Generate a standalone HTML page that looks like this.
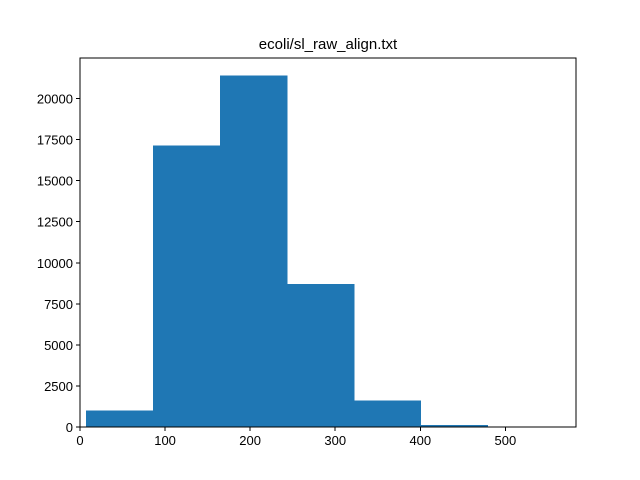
<!DOCTYPE html>
<html><head><meta charset="utf-8"><style>body{margin:0;background:#fff}svg{display:block;font-family:"Liberation Sans","DejaVu Sans",sans-serif}</style></head>
<body>
<svg id="chart" width="640" height="480">
<rect width="640" height="480" fill="#fff"/>
<text x="328" y="49" text-anchor="middle" font-size="15">ecoli/sl_raw_align.txt</text>
<g id="bars" shape-rendering="crispEdges"></g><g id="axes" shape-rendering="crispEdges"></g>
<rect x="80" y="58" width="496" height="369" fill="none" stroke="#000" stroke-width="1"/>
</svg>
<script>
const binEdges=[7,85.7,164.4,243.1,321.8,400.5,479.2,557.9];
const counts=[1000,17150,21400,8700,1600,120,20];
const xTicks=[0,100,200,300,400,500];
const yTicks=[0,2500,5000,7500,10000,12500,15000,17500,20000];
const L=80,R=576,T=58,B=427,xMin=0,xMax=583,yMax=22470;
const sx=v=>L+(v-xMin)/(xMax-xMin)*(R-L);
const sy=v=>B-v/yMax*(B-T);
const NS="http://www.w3.org/2000/svg";
const bars=document.getElementById('bars'),axes=document.getElementById('axes');
counts.forEach((c,i)=>{const r=document.createElementNS(NS,'rect');
r.setAttribute('x',sx(binEdges[i]));r.setAttribute('width',sx(binEdges[i+1])-sx(binEdges[i])+0.5);
r.setAttribute('y',sy(c));r.setAttribute('height',B-sy(c));r.setAttribute('fill','#1f77b4');


bars.appendChild(r);});
xTicks.forEach(t=>{const x=sx(t);const l=document.createElementNS(NS,'line');
l.setAttribute('x1',x);l.setAttribute('x2',x);l.setAttribute('y1',B);l.setAttribute('y2',B+4);l.setAttribute('stroke','#000');


axes.appendChild(l);const tx=document.createElementNS(NS,'text');
tx.setAttribute('x',x);tx.setAttribute('y',B+18);tx.setAttribute('text-anchor','middle');tx.setAttribute('font-size','13');tx.textContent=t;


axes.appendChild(tx);});
yTicks.forEach(t=>{const y=sy(t);const l=document.createElementNS(NS,'line');
l.setAttribute('x1',L-4);l.setAttribute('x2',L);l.setAttribute('y1',y);l.setAttribute('y2',y);l.setAttribute('stroke','#000');


axes.appendChild(l);const tx=document.createElementNS(NS,'text');
tx.setAttribute('x',L-7);tx.setAttribute('y',y+5);tx.setAttribute('text-anchor','end');tx.setAttribute('font-size','13');tx.textContent=t;


axes.appendChild(tx);});
</script>
</body></html>
